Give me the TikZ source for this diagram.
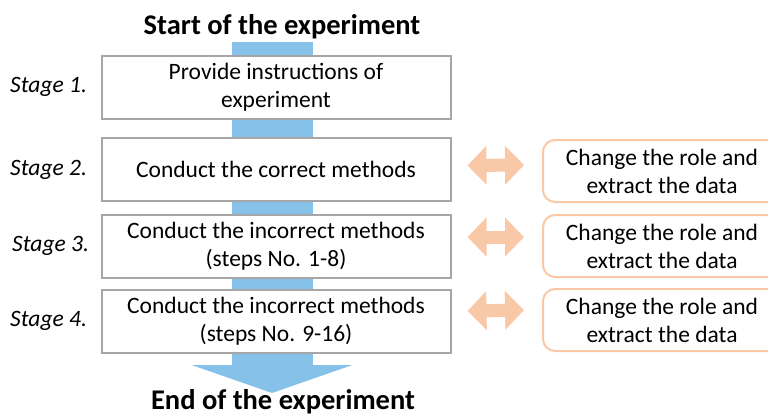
\documentclass[tikz,border=0pt]{standalone}
\usepackage{fontspec}
\setmainfont{Carlito}
\usetikzlibrary{positioning,arrows.meta}

\definecolor{barblue}{HTML}{85C1E9}
\definecolor{peach}{HTML}{F9C8A7}
\definecolor{boxgray}{HTML}{A6A6A6}

\tikzset{
	stagebox/.style={draw=boxgray, line width=2pt, fill=white, minimum width=349pt, minimum height=63pt, inner sep=0pt, align=center, font=\fontsize{23.5}{28}\selectfont},
	rolebox/.style={draw=peach, line width=2pt, rounded corners=12pt, fill=white, minimum width=238pt, minimum height=62pt, inner sep=0pt, align=center, font=\fontsize{23.5}{28}\selectfont},
	stagelabel/.style={font=\fontsize{23.5}{28}\selectfont\itshape},
	title/.style={font=\fontsize{28.5}{32}\selectfont\bfseries},
	swaparrow/.style={draw=peach, line width=13pt, {Triangle[width=38pt,length=19pt]}-{Triangle[width=38pt,length=19pt]}}
}

\begin{document}
\begin{tikzpicture}[x=1pt, y=-1pt]
		\clip (0,0) rectangle (768,416);
		\useasboundingbox (0,0) rectangle (768,416);
		
		\node[title] (start) at (282,27) {Start of the experiment};
		\node[title] (end) at (283,402) {End of the experiment};
		\coordinate (bartop) at (272,42);
		\coordinate (bartip) at (272,393);
		\draw[line width=81pt, barblue, -{Triangle[width=160pt,length=28pt]}] (bartop) -- (bartip);
		
		\node[stagebox] (s1) at (276,87) {Provide instructions of\\experiment};
		\node[stagebox] (s2) at (276,169.5) {Conduct the correct methods};
		\node[stagebox] (s3) at (276,246) {Conduct the incorrect methods\\(steps No. 1-8)};
		\node[stagebox] (s4) at (276,321) {Conduct the incorrect methods\\(steps No. 9-16)};
		
		\node[stagelabel, left=10pt of s1] (l1) {Stage 1.};
		\node[stagelabel, left=10pt of s2] (l2) {Stage 2.};
		\node[stagelabel, left=8pt of s3] (l3) {Stage 3.};
		\node[stagelabel, left=10pt of s4] (l4) {Stage 4.};
		
		\node[rolebox] (r2) at (662,171) {Change the role and\\extract the data};
		\node[rolebox] (r3) at (662,246) {Change the role and\\extract the data};
		\node[rolebox] (r4) at (662,320) {Change the role and\\extract the data};
		
		\draw[swaparrow] ([xshift=16pt,yshift=4pt]s2.east) -- ([xshift=-18pt,yshift=6pt]r2.west);
		\draw[swaparrow] ([xshift=16pt,yshift=9pt]s3.east) -- ([xshift=-18pt,yshift=9pt]r3.west);
		\draw[swaparrow] ([xshift=16pt,yshift=10pt]s4.east) -- ([xshift=-18pt,yshift=10pt]r4.west);
\end{tikzpicture}
\end{document}
